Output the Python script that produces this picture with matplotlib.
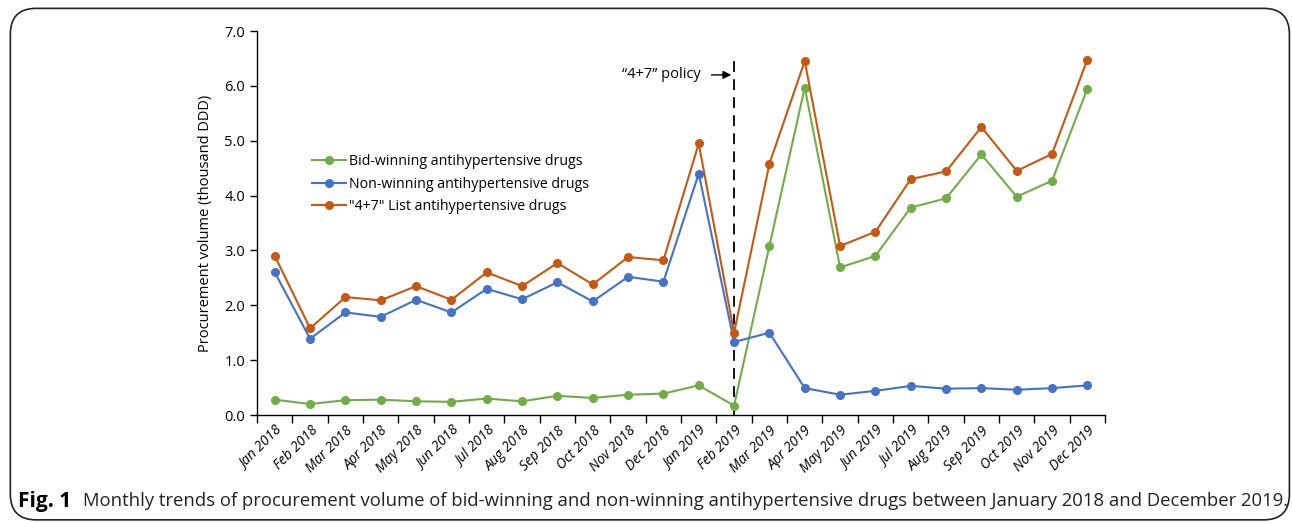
import numpy as np
import matplotlib.pyplot as plt
from matplotlib.patches import FancyBboxPatch

months = ["Jan 2018", "Feb 2018", "Mar 2018", "Apr 2018", "May 2018", "Jun 2018",
          "Jul 2018", "Aug 2018", "Sep 2018", "Oct 2018", "Nov 2018", "Dec 2018",
          "Jan 2019", "Feb 2019", "Mar 2019", "Apr 2019", "May 2019", "Jun 2019",
          "Jul 2019", "Aug 2019", "Sep 2019", "Oct 2019", "Nov 2019", "Dec 2019"]

bid_winning = [0.28, 0.20, 0.27, 0.28, 0.25, 0.24, 0.30, 0.25, 0.35, 0.31, 0.37, 0.39,
               0.54, 0.17, 3.08, 5.97, 2.69, 2.90, 3.78, 3.95, 4.75, 3.98, 4.27, 5.95]
non_winning = [2.60, 1.39, 1.87, 1.79, 2.10, 1.87, 2.30, 2.11, 2.42, 2.07, 2.52, 2.43,
               4.40, 1.33, 1.50, 0.49, 0.37, 0.44, 0.53, 0.48, 0.49, 0.46, 0.49, 0.54]
list_47 = [2.90, 1.58, 2.15, 2.09, 2.35, 2.10, 2.60, 2.35, 2.77, 2.38, 2.88, 2.82,
           4.95, 1.50, 4.58, 6.45, 3.08, 3.34, 4.30, 4.44, 5.25, 4.45, 4.76, 6.48]

policy_month = "Feb 2019"

plt.rcParams['font.family'] = ['Open Sans', 'DejaVu Sans']

fig = plt.figure(figsize=(12.92, 5.23), dpi=100)
ax = fig.add_axes([0.1990, 0.2065, 0.6563, 0.7342])

x = np.arange(len(months))
ax.plot(x, bid_winning, color="#70AD47", lw=1.5, marker="o", ms=5.5,
        label="Bid-winning antihypertensive drugs")
ax.plot(x, non_winning, color="#4472C4", lw=1.5, marker="o", ms=5.5,
        label="Non-winning antihypertensive drugs")
ax.plot(x, list_47, color="#C65911", lw=1.5, marker="o", ms=5.5,
        label="\"4+7\" List antihypertensive drugs")

px = months.index(policy_month)
ax.plot([px, px], [0, 6.47], color="black", lw=1.3, ls=(0, (6, 4)), zorder=1)
ax.annotate("", xy=(px, 6.2), xytext=(px - 0.72, 6.2),
            arrowprops=dict(arrowstyle="-|>", color="black", lw=1, mutation_scale=12))
ax.text(px - 0.95, 6.2, "\u201c4+7\u201d policy", ha="right", va="center", fontsize=10.5)

ax.set_xlim(-0.5, len(months) - 0.5)
ax.set_ylim(0, 7)
ax.set_yticks(np.arange(0, 7.1, 1.0))
ax.set_yticklabels([f"{v:.1f}" for v in np.arange(0, 7.1, 1.0)], fontsize=10.5)
ax.set_xticks(np.arange(-0.5, len(months), 1.0))
ax.set_xticklabels([])
ax.set_xticks(x, minor=True)
ax.set_xticklabels(months, minor=True, rotation=45, ha="right", rotation_mode="anchor",
                   fontsize=10, fontstyle="italic")
ax.tick_params(axis="x", which="major", length=6, direction="out", width=1)
ax.tick_params(axis="x", which="minor", length=0, pad=6)
ax.tick_params(axis="y", length=5, direction="out", width=1)
ax.set_ylabel("Procurement volume (thousand DDD)", fontsize=10.5, labelpad=8)

for s in ["top", "right"]:
    ax.spines[s].set_visible(False)
ax.spines["left"].set_linewidth(1)
ax.spines["bottom"].set_linewidth(1)

ax.legend(loc="upper left", bbox_to_anchor=(0.058, 0.695), frameon=False, fontsize=10.2,
          handlelength=2.4, handletextpad=0.2, labelspacing=0.55, borderaxespad=0)

fig.text(0.014, 0.042, "Fig. 1", fontsize=15, fontweight="bold", va="center")
fig.text(0.0645, 0.042, "Monthly trends of procurement volume of bid-winning and non-winning "
         "antihypertensive drugs between January 2018 and December 2019.",
         fontsize=13.3, va="center", color="#222222")

box = FancyBboxPatch((0.008, 0.006), 0.99, 0.978, boxstyle="round,pad=0,rounding_size=0.02",
                     transform=fig.transFigure, fill=False, ec="#222222", lw=1.2,
                     mutation_aspect=2.47)
fig.patches.append(box)

fig.savefig("out.png", dpi=100)
